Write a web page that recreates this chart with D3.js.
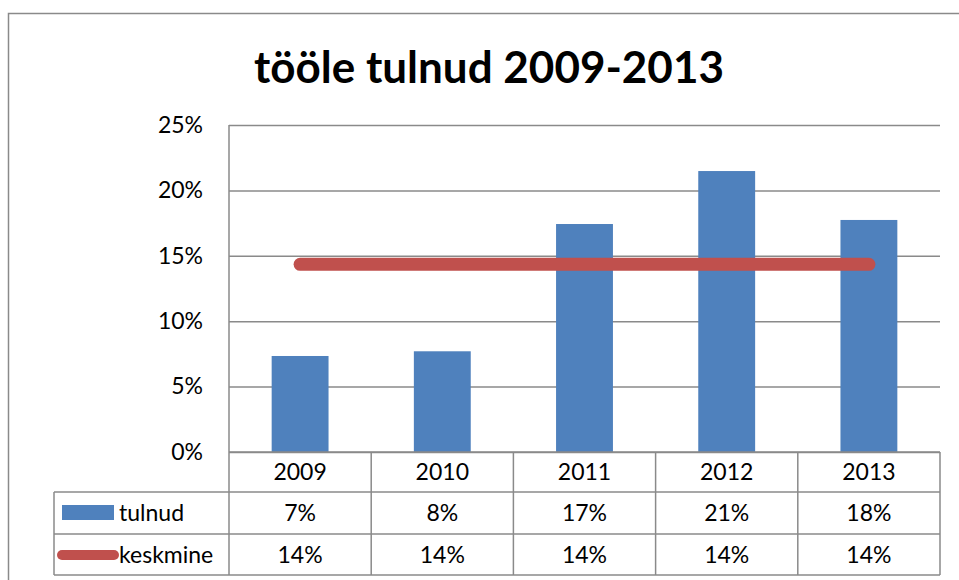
<!DOCTYPE html>
<html>
<head>
<meta charset="utf-8">
<script src="https://cdn.jsdelivr.net/npm/d3@7"></script>
<style>
  body { margin: 0; background: #fff; }
  svg { display: block; font-family: Lato, "Open Sans", sans-serif; }
</style>
</head>
<body>
<div id="chart"></div>
<script>
const years = ['2009', '2010', '2011', '2012', '2013']
const tulnud = [0.0734, 0.077, 0.1743, 0.2148, 0.1774]
const keskmine = [0.1435, 0.1435, 0.1435, 0.1435, 0.1435]
const yTicks = [0, 0.05, 0.10, 0.15, 0.20, 0.25]
const seriesNames = ['tulnud', 'keskmine']
const title = 'tööle tulnud 2009-2013'

const width = 959
const height = 580
const plot = { left: 229, right: 940, top: 125, bottom: 452 }
const rows = [452, 492, 534, 575]
const tableLeft = 54
const gray = '#8a8a8a'
const blue = '#4F81BD'
const red = '#C0504D'
const fontSize = 23
const pct = d3.format('.0%')

const svg = d3.select('#chart').append('svg')
  .attr('width', width)
  .attr('height', height)

// outer chart border (cropped on right / bottom)
svg.append('rect')
  .attr('x', 8.5).attr('y', 13.5)
  .attr('width', 1000).attr('height', 700)
  .attr('fill', '#fff')
  .attr('stroke', gray).attr('stroke-width', 1.5)

svg.append('text')
  .attr('x', 489).attr('y', 83)
  .attr('text-anchor', 'middle')
  .attr('font-weight', 'bold')
  .attr('font-size', 44)
  .text(title)

const x = d3.scaleBand()
  .domain(years)
  .range([plot.left, plot.right])
  .paddingInner(0.6)
  .paddingOuter(0.3)

const y = d3.scaleLinear()
  .domain([0, 0.25])
  .range([plot.bottom, plot.top])

// y axis with gridlines
const yAxis = svg.append('g')
  .attr('transform', 'translate(' + plot.left + ',0)')
  .call(d3.axisLeft(y)
    .tickValues(yTicks)
    .tickFormat(pct)
    .tickSizeInner(-(plot.right - plot.left))
    .tickSizeOuter(0)
    .tickPadding(26))

yAxis.select('.domain').remove()
yAxis.selectAll('.tick line')
  .attr('stroke', gray).attr('stroke-width', 1.5)
yAxis.selectAll('.tick text')
  .attr('font-size', fontSize)
  .attr('fill', '#000')
  .attr('font-family', 'Lato, sans-serif')

// bars
svg.append('g').selectAll('rect')
  .data(tulnud)
  .join('rect')
  .attr('x', (d, i) => x(years[i]))
  .attr('y', d => y(d))
  .attr('width', x.bandwidth())
  .attr('height', d => y(0) - y(d))
  .attr('fill', blue)

// average line
const line = d3.line()
  .x((d, i) => x(years[i]) + x.bandwidth() / 2)
  .y(d => y(d))

svg.append('path')
  .datum(keskmine)
  .attr('d', line)
  .attr('fill', 'none')
  .attr('stroke', red)
  .attr('stroke-width', 13)
  .attr('stroke-linecap', 'round')

// data table
const step = x.step()
const cols = d3.range(years.length + 1).map(i => plot.left + i * step)
const grid = svg.append('g')
  .attr('stroke', gray).attr('stroke-width', 1.5)

grid.append('line')
  .attr('x1', plot.left).attr('x2', plot.left)
  .attr('y1', plot.top).attr('y2', rows[3])
cols.slice(1).forEach(c => {
  grid.append('line')
    .attr('x1', c).attr('x2', c)
    .attr('y1', rows[0]).attr('y2', rows[3])
})
grid.append('line')
  .attr('x1', tableLeft).attr('x2', tableLeft)
  .attr('y1', rows[1]).attr('y2', rows[3])
grid.append('line')
  .attr('x1', plot.left).attr('x2', plot.right)
  .attr('y1', rows[0]).attr('y2', rows[0])
rows.slice(1).forEach(r => {
  grid.append('line')
    .attr('x1', tableLeft).attr('x2', plot.right)
    .attr('y1', r).attr('y2', r)
})

const cellText = (vals, r0, r1) => {
  svg.append('g').selectAll('text')
    .data(vals)
    .join('text')
    .attr('x', (d, i) => x(years[i]) + x.bandwidth() / 2)
    .attr('y', (r0 + r1) / 2)
    .attr('dy', '0.35em')
    .attr('text-anchor', 'middle')
    .attr('font-size', fontSize)
    .text(d => d)
}

cellText(years, rows[0], rows[1])
cellText(tulnud.map(pct), rows[1], rows[2])
cellText(keskmine.map(pct), rows[2], rows[3])

// legend keys
svg.append('rect')
  .attr('x', 62).attr('y', 505)
  .attr('width', 52).attr('height', 15)
  .attr('fill', blue)

svg.append('line')
  .attr('x1', 62).attr('x2', 114)
  .attr('y1', 555).attr('y2', 555)
  .attr('stroke', red).attr('stroke-width', 10)
  .attr('stroke-linecap', 'round')

svg.append('g').selectAll('text')
  .data(seriesNames)
  .join('text')
  .attr('x', 119)
  .attr('y', (d, i) => (rows[i + 1] + rows[i + 2]) / 2)
  .attr('dy', '0.35em')
  .attr('font-size', fontSize)
  .text(d => d)
</script>
</body>
</html>
